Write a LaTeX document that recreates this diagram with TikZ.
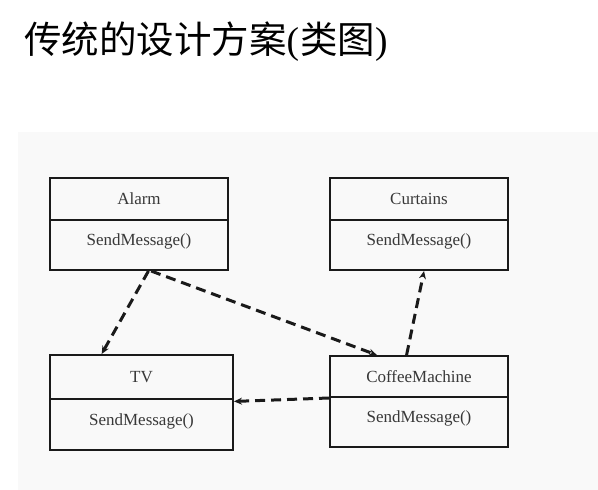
\documentclass[tikz,border=0pt]{standalone}
\usepackage{fontspec}
\setmainfont{Liberation Serif}
\newfontfamily\cjk{Noto Sans CJK SC}
\usetikzlibrary{arrows.meta}
\definecolor{painel}{HTML}{F9F9F9}
\definecolor{borda}{HTML}{1A1A1A}
\definecolor{texto}{HTML}{383838}
\begin{document}
\begin{tikzpicture}[x=1pt, y=-1pt,
        nome/.style={draw=borda, line width=2pt, fill=painel, text=texto,
                     font=\fontsize{17}{19}\selectfont, inner sep=0pt},
        metodo/.style={nome, text depth=10pt},
        dep/.style={line width=3pt, borda, dash pattern=on 10pt off 6pt,
                    -{Stealth[length=8pt, width=7pt]}},
    ]
        \useasboundingbox (0,0) rectangle (598,490);
        % fundo
        \fill[white] (0,0) rectangle (598,490);
        \fill[painel] (18,132) rectangle (598,490);
        % titulo
        \node[anchor=west, inner sep=0pt, font=\fontsize{37.5}{40}\selectfont] (titulo) at (24,42)
            {{\cjk 传统的设计方案}(\kern1pt{\cjk 类图})};
        % classes
        \node[nome, minimum width=178pt, minimum height=42pt] (an) at (139,199) {Alarm};
        \node[metodo, minimum width=178pt, minimum height=50pt] (am) at (139,245) {SendMessage()};
        \node[nome, minimum width=178pt, minimum height=42pt] (cn) at (419,199) {Curtains};
        \node[metodo, minimum width=178pt, minimum height=50pt] (cm) at (419,245) {SendMessage()};
        \node[nome, minimum width=183pt, minimum height=44pt] (tvn) at (141.5,377) {TV};
        \node[metodo, minimum width=183pt, minimum height=51pt] (tvm) at (141.5,424.5) {SendMessage()};
        \node[nome, minimum width=178pt, minimum height=41pt] (cmn) at (419,376.5) {CoffeeMachine};
        \node[metodo, minimum width=178pt, minimum height=50pt] (cmm) at (419,422) {SendMessage()};
        % dependencias
        \draw[dep] (am.-70) -- (tvn.150);
        \draw[dep] (am.-65) -- (cmn.153);
        \draw[dep] (cmn.120) -- (cm.-79);
        \draw[dep] (cmn.south west) -- (tvm.14);
    \end{tikzpicture}
\end{document}
